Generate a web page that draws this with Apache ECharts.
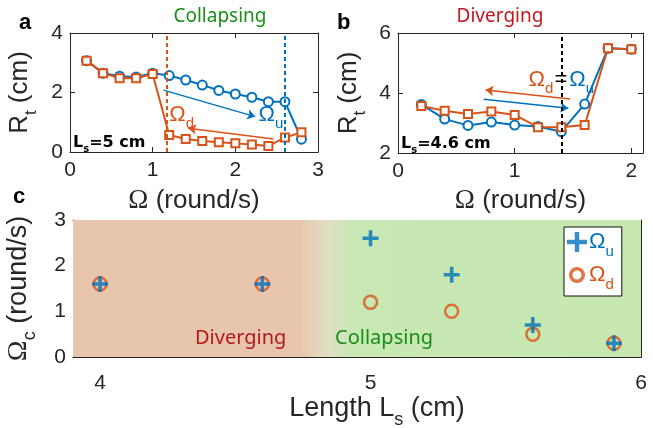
<!DOCTYPE html>
<html>
<head>
<meta charset="utf-8">
<script src="https://cdn.jsdelivr.net/npm/echarts@6/dist/echarts.min.js"></script>
<style>html,body{margin:0;padding:0;background:#fff;}#c{width:653px;height:428px;}</style>
</head>
<body>
<div id="c"></div>
<script>
// ---- Panel a (Ls = 5 cm) ----
const aOmega = [0.2,0.4,0.6,0.8,1.0,1.2,1.4,1.6,1.8,2.0,2.2,2.4,2.6,2.8];
const aRtUp   = [3.07,2.65,2.55,2.52,2.65,2.57,2.42,2.25,2.07,1.95,1.84,1.69,1.69,0.43];
const aRtDown = [3.07,2.65,2.48,2.48,2.62,0.57,0.44,0.37,0.33,0.29,0.25,0.20,0.49,0.66];
const aOmegaD = 1.17, aOmegaU = 2.6;
// ---- Panel b (Ls = 4.6 cm) ----
const bOmega = [0.2,0.4,0.6,0.8,1.0,1.2,1.4,1.6,1.8,2.0];
const bRtUp   = [3.62,3.13,2.92,3.03,2.93,2.88,2.71,3.63,5.49,5.46];
const bRtDown = [3.57,3.41,3.30,3.38,3.27,2.86,2.86,2.93,5.49,5.46];
const bOmegaC = 1.4;
// ---- Panel c ----
const cLength = [4.0,4.6,5.0,5.3,5.6,5.9];
const cOmegaU = [1.6,1.6,2.6,1.8,0.7,0.3];
const cOmegaD = [1.6,1.6,1.2,1.0,0.5,0.3];
// tick labels
const aXTicks = [0,1,2,3], aYTicks = [0,2,4];
const bXTicks = [0,1,2], bYTicks = [2,4,6];
const cXTicks = [4,5,6], cXMinor = [4,4.5,5,5.5,6], cYTicks = [0,1,2,3];
// annotation arrows [start, end]
const aArrowUp = [[1.13,2.08],[2.24,1.19]];
const aArrowDown = [[2.46,0.44],[1.43,0.80]];
const bArrowDown = [[1.475,3.80],[0.75,4.10]];
const bArrowUp = [[0.735,3.79],[1.46,3.49]];

const BLUE = '#0072BD', ORANGE = '#D95319', INK = '#262626';
const FONT = 'Liberation Sans';
const pair = (xs, ys) => xs.map((x, i) => [x, ys[i]]);
const subStyle = (fs, pad) => ({fontSize: fs, lineHeight: fs, padding: [pad,0,0,0], verticalAlign: 'top', fontFamily: FONT});
const richFor = fs => ({
  o: {fontFamily: 'Liberation Serif', fontSize: fs + 1},
  t: {fontFamily: FONT, fontSize: fs},
  s: subStyle(Math.round(fs * 0.66), Math.round(fs * 0.6))
});

function xAxis(gi, min, max, labels, ticks, pos, name, gap, fs, margin, namePad) {
  return {
    type: 'value', gridIndex: gi, min: min, max: max, position: pos,
    axisLine: {show: true, onZero: false, lineStyle: {color: INK, width: 1}},
    axisTick: {show: true, inside: true, length: 5, customValues: ticks, lineStyle: {color: INK}},
    axisLabel: {show: pos === 'bottom', customValues: labels, fontSize: 21, color: INK, fontFamily: FONT, margin: margin || 8},
    splitLine: {show: false},
    name: name || '', nameLocation: 'middle', nameGap: gap || 0,
    nameTextStyle: {color: INK, fontSize: fs || 26, fontFamily: FONT, rich: richFor(fs || 26), padding: namePad || 0}
  };
}
function yAxis(gi, min, max, labels, pos, name, gap, fs) {
  return {
    type: 'value', gridIndex: gi, min: min, max: max, position: pos,
    axisLine: {show: true, onZero: false, lineStyle: {color: INK, width: 1}},
    axisTick: {show: true, inside: true, length: 5, customValues: labels, lineStyle: {color: INK}},
    axisLabel: {show: pos === 'left', customValues: labels, fontSize: 21, color: INK, fontFamily: FONT, margin: 7, padding: [6,0,0,0]},
    splitLine: {show: false},
    name: name || '', nameLocation: 'middle', nameGap: gap || 0, nameRotate: 90,
    nameTextStyle: {color: INK, fontSize: fs || 26, fontFamily: FONT, rich: richFor(fs || 26)}
  };
}
function arrow(pts, color) {
  return [{coord: pts[0], lineStyle: {color: color}}, {coord: pts[1]}];
}
function lbl(text, coord, color) {
  return {coord: coord, label: {show: true, formatter: text, color: color, position: 'inside', fontSize: 22,
    rich: {o: {fontFamily: FONT, fontSize: 22, color: color}, s: Object.assign(subStyle(15, 13), {color: color})}}};
}

const plusPath = 'path://M7,0 L11,0 L11,7 L18,7 L18,11 L11,11 L11,18 L7,18 L7,11 L0,11 L0,7 L7,7 Z';
const ringPath = 'path://M0,0 L0.01,0 L0,0.01 Z M20,20 L19.99,20 L20,19.99 Z M10,2 A8,8 0 1,1 9.99,2 Z M10,5.5 A4.5,4.5 0 1,0 10.01,5.5 Z';

const chart = echarts.init(document.getElementById('c'), null, {renderer: 'canvas'});
const option = {
  backgroundColor: '#fff',
  animation: false,
  grid: [
    {left: 70, top: 33, width: 248, height: 119, outerBoundsMode: 'none', containLabel: false},
    {left: 398, top: 33, width: 245, height: 120, outerBoundsMode: 'none', containLabel: false},
    {left: 73, top: 220, width: 568, height: 137, outerBoundsMode: 'none', containLabel: false}
  ],
  xAxis: [
    xAxis(0, 0, 3, aXTicks, aXTicks, 'bottom', '{o|Ω}{t| (round/s)}', 35, 26),
    xAxis(0, 0, 3, aXTicks, aXTicks, 'top'),
    xAxis(1, 0, 2.1, bXTicks, bXTicks, 'bottom', '{o|Ω}{t| (round/s)}', 34, 26),
    xAxis(1, 0, 2.1, bXTicks, bXTicks, 'top'),
    xAxis(2, 3.9, 6, cXTicks, cXMinor, 'bottom', '{t|Length L}{s|s}{t| (cm)}', 37, 27, 16, [0,0,0,40]),
    xAxis(2, 3.9, 6, cXTicks, cXMinor, 'top')
  ],
  yAxis: [
    yAxis(0, 0, 4, aYTicks, 'left', '{t|R}{s|t}{t| (cm)}', 37, 26),
    yAxis(0, 0, 4, aYTicks, 'right'),
    yAxis(1, 2, 6, bYTicks, 'left', '{t|R}{s|t}{t| (cm)}', 36, 26),
    yAxis(1, 2, 6, bYTicks, 'right'),
    yAxis(2, 0, 3, cYTicks, 'left', '{o|Ω}{s|c}{t| (round/s)}', 40, 27),
    yAxis(2, 0, 3, cYTicks, 'right')
  ],
  legend: {
    orient: 'vertical', left: 564, top: 227, padding: [4, 8, 4, 3], itemGap: 5,
    itemWidth: 20, itemHeight: 20, backgroundColor: '#fff', borderColor: '#111', borderWidth: 1, borderRadius: 0,
    data: [
      {name: 'Ωu', icon: plusPath, itemStyle: {color: BLUE, borderWidth: 0}, textStyle: {color: BLUE}},
      {name: 'Ωd', icon: ringPath, itemStyle: {color: ORANGE, borderWidth: 0}, textStyle: {color: ORANGE}}
    ],
    formatter: n => n === 'Ωu' ? '{o|Ω}{s|u}' : '{o|Ω}{s|d}',
    textStyle: {fontSize: 22, fontFamily: FONT, padding: [0,0,0,-3],
      rich: {o: {fontFamily: FONT, fontSize: 22}, s: subStyle(15, 13)}}
  },
  graphic: [
    {type: 'text', left: 19, top: 12, style: {text: 'a', font: 'bold 22px "Liberation Sans"', fill: '#000'}},
    {type: 'text', left: 337, top: 12, style: {text: 'b', font: 'bold 22px "Liberation Sans"', fill: '#000'}},
    {type: 'text', left: 13, top: 186, style: {text: 'c', font: 'bold 22px "Liberation Sans"', fill: '#000'}},
    {type: 'text', x: 220, y: 17, style: {text: 'Collapsing', font: '19px "Noto Sans"', fill: '#1a8f1a', align: 'center', verticalAlign: 'middle'}},
    {type: 'text', x: 500, y: 17, style: {text: 'Diverging', font: '19px "Noto Sans"', fill: '#c0161c', align: 'center', verticalAlign: 'middle'}},
    {type: 'text', x: 73, y: 143, style: {text: '{b|L}{s|s}{b|=5 cm}', verticalAlign: 'middle', fill: '#000',
      rich: {b: {font: 'bold 16px "DejaVu Sans"'}, s: {font: 'bold 10px "DejaVu Sans"', padding: [9,0,0,0], lineHeight: 10, verticalAlign: 'top'}}}},
    {type: 'text', x: 401, y: 144, style: {text: '{b|L}{s|s}{b|=4.6 cm}', verticalAlign: 'middle', fill: '#000',
      rich: {b: {font: 'bold 16px "DejaVu Sans"'}, s: {font: 'bold 10px "DejaVu Sans"', padding: [9,0,0,0], lineHeight: 10, verticalAlign: 'top'}}}}
  ],
  series: [
    // panel a
    {type: 'line', name: 'aUp', xAxisIndex: 0, yAxisIndex: 0, data: pair(aOmega, aRtUp),
      symbol: 'emptyCircle', symbolSize: 9, lineStyle: {color: BLUE, width: 2}, itemStyle: {color: BLUE, borderWidth: 2},
      markLine: {silent: true, symbol: ['none','none'], label: {show: false}, lineStyle: {color: BLUE, type: [4,3], width: 2},
        data: [{xAxis: aOmegaU}]},
      markPoint: {symbolSize: 0, data: [lbl('{o|Ω}{s|u}', [2.43, 1.26], BLUE)]}
    },
    {type: 'line', name: 'aDown', xAxisIndex: 0, yAxisIndex: 0, data: pair(aOmega, aRtDown),
      symbol: 'emptyRect', symbolSize: 8, lineStyle: {color: ORANGE, width: 2}, itemStyle: {color: ORANGE, borderWidth: 2},
      markLine: {silent: true, symbol: ['none','none'], label: {show: false}, lineStyle: {color: ORANGE, type: [4,3], width: 2},
        data: [{xAxis: aOmegaD}]},
      markPoint: {symbolSize: 0, data: [lbl('{o|Ω}{s|d}', [1.35, 1.26], ORANGE)]}
    },
    {type: 'line', name: 'aArrows', xAxisIndex: 0, yAxisIndex: 0, data: [], 
      markLine: {silent: true, symbol: ['none','arrow'], symbolSize: 8, label: {show: false}, lineStyle: {type: 'solid', width: 1.5},
        data: [arrow(aArrowUp, BLUE), arrow(aArrowDown, ORANGE)]}
    },
    // panel b
    {type: 'line', name: 'bUp', xAxisIndex: 2, yAxisIndex: 2, data: pair(bOmega, bRtUp),
      symbol: 'emptyCircle', symbolSize: 9, lineStyle: {color: BLUE, width: 2}, itemStyle: {color: BLUE, borderWidth: 2}
    },
    {type: 'line', name: 'bDown', xAxisIndex: 2, yAxisIndex: 2, data: pair(bOmega, bRtDown),
      symbol: 'emptyRect', symbolSize: 8, lineStyle: {color: ORANGE, width: 2}, itemStyle: {color: ORANGE, borderWidth: 2}
    },
    {type: 'line', name: 'bArrows', xAxisIndex: 2, yAxisIndex: 2, data: [], z: 5,
      markLine: {silent: true, symbol: ['none','arrow'], symbolSize: 8, label: {show: false}, lineStyle: {type: 'solid', width: 1.5},
        data: [arrow(bArrowDown, ORANGE), arrow(bArrowUp, BLUE)]},
      markPoint: {symbolSize: 0, data: [
        {coord: [bOmegaC, 4.45], label: {show: true, position: 'inside', formatter: '{d|Ω}{ds|d}{e|=}{u|Ω}{us|u}',
          rich: {d: {fontFamily: FONT, fontSize: 22, color: ORANGE}, ds: Object.assign(subStyle(15,13), {color: ORANGE}),
                 e: {fontFamily: FONT, fontSize: 22, color: '#000', padding: [0,2,0,1]},
                 u: {fontFamily: FONT, fontSize: 22, color: BLUE}, us: Object.assign(subStyle(15,13), {color: BLUE})}}}
      ]}
    },
    {type: 'line', name: 'bLine', xAxisIndex: 2, yAxisIndex: 2, data: [], z: 6,
      markLine: {silent: true, symbol: ['none','none'], label: {show: false}, lineStyle: {color: '#000', type: [4,3], width: 2},
        data: [{xAxis: bOmegaC}]}
    },
    // panel c
    {type: 'scatter', name: 'Ωd', xAxisIndex: 4, yAxisIndex: 4, data: pair(cLength, cOmegaD), z: 3,
      symbol: 'circle', symbolSize: 13, itemStyle: {color: 'rgba(0,0,0,0)', borderColor: ORANGE, borderWidth: 2.5},
      markArea: {silent: true, data: [[{xAxis: 3.9, yAxis: 0}, {xAxis: 6, yAxis: 3}]],
        itemStyle: {color: {type: 'linear', x: 0, y: 0, x2: 1, y2: 0, colorStops: [
          {offset: 0, color: '#e8c6ae'}, {offset: 0.40, color: '#e8c6ae'}, {offset: 0.45, color: '#dfe0c5'},
          {offset: 0.495, color: '#c8e8b4'}, {offset: 1, color: '#c6e8b0'}]}}},
      markPoint: {symbolSize: 0, data: [
        {coord: [4.52, 0.41], label: {show: true, position: 'inside', formatter: 'Diverging', color: '#b51a1a', fontSize: 20, fontFamily: 'Noto Sans'}},
        {coord: [5.05, 0.41], label: {show: true, position: 'inside', formatter: 'Collapsing', color: '#1a8c1a', fontSize: 20, fontFamily: 'Noto Sans'}}
      ]}
    },
    {type: 'scatter', name: 'Ωu', xAxisIndex: 4, yAxisIndex: 4, data: pair(cLength, cOmegaU), z: 4,
      symbol: plusPath, symbolSize: 16, itemStyle: {color: BLUE}
    }
  ]
};
chart.setOption(option);
</script>
</body>
</html>
